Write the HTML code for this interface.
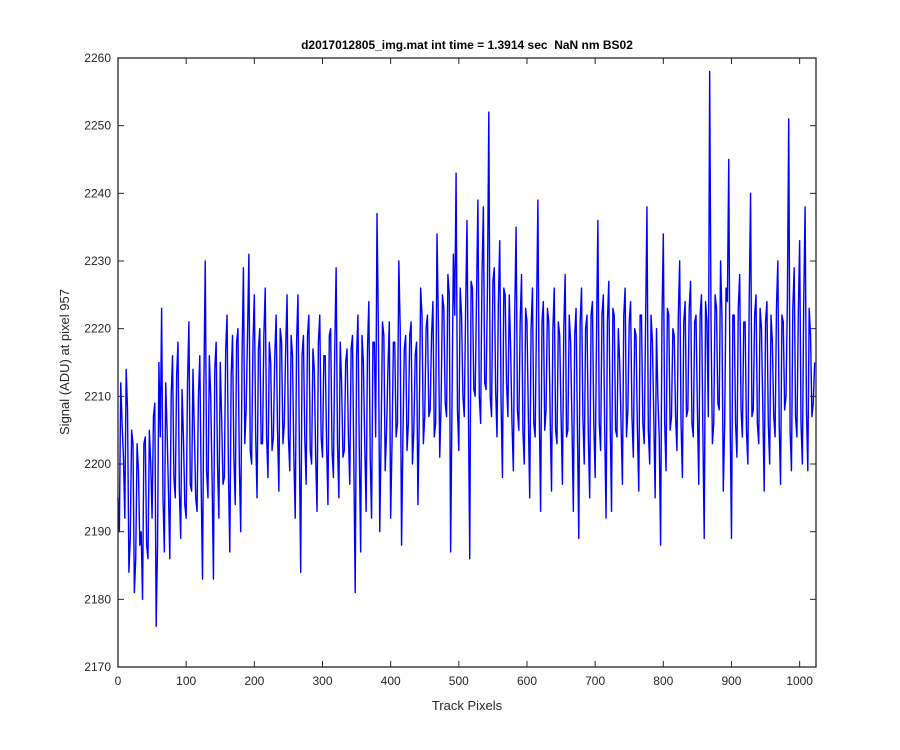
<!DOCTYPE html>
<html><head><meta charset="utf-8"><style>
html,body{margin:0;padding:0;background:#fff;}
svg{display:block;font-family:"Liberation Sans",Arial,sans-serif;}
</style></head><body>
<svg id="chart" width="900" height="750" viewBox="0 0 900 750" xmlns="http://www.w3.org/2000/svg">
<rect x="0" y="0" width="900" height="750" fill="#fff"/>
<text x="467" y="49" text-anchor="middle" font-size="12" font-weight="bold" fill="#000">d2017012805_img.mat int time = 1.3914 sec &#160;NaN nm BS02</text>
<text x="467" y="710" text-anchor="middle" font-size="13" fill="#262626">Track Pixels</text>
<text transform="translate(69,362) rotate(-90)" text-anchor="middle" font-size="13" fill="#262626">Signal (ADU) at pixel 957</text>
<g id="ticks"></g>
<polyline id="series" fill="none" stroke="#0000ff" stroke-width="1.4" stroke-linejoin="round"/>
<rect x="118" y="58" width="698" height="609" fill="none" stroke="#262626" stroke-width="1.3"/>
</svg>
<script>
const xTicks = [0,100,200,300,400,500,600,700,800,900,1000];
const yTicks = [2170,2180,2190,2200,2210,2220,2230,2240,2250,2260];
const sampleStep = 4;
// samples at pixel 4k
const signal = [2195,2212,2201,2214,2184,2205,2181,2203,2188,2180,2204,2186,2200,2207,2176,2215,
2223,2187,2205,2186,2216,2195,2218,2189,2204,2192,2221,2196,2205,2193,2216,2183,
2230,2195,2210,2183,2218,2192,2207,2198,2222,2187,2219,2194,2220,2190,2229,2208,
2231,2200,2225,2195,2220,2203,2226,2198,2215,2204,2222,2196,2218,2206,2225,2199,
2216,2192,2225,2184,2219,2197,2222,2200,2214,2193,2222,2201,2216,2194,2220,2198,
2229,2195,2212,2202,2217,2197,2219,2181,2222,2187,2215,2193,2224,2192,2218,2237,
2190,2221,2199,2214,2192,2218,2204,2230,2188,2217,2202,2219,2200,2216,2194,2226,
2203,2220,2207,2219,2204,2234,2201,2225,2209,2228,2187,2231,2243,2202,2222,2207,
2236,2186,2226,2210,2239,2206,2238,2211,2252,2207,2229,2204,2233,2198,2225,2207,
2217,2199,2235,2205,2228,2200,2221,2195,2226,2204,2239,2193,2224,2208,2221,2196,
2226,2203,2219,2197,2228,2205,2218,2193,2223,2189,2226,2200,2222,2195,2224,2198,
2236,2202,2225,2192,2227,2193,2222,2204,2215,2197,2226,2208,2224,2201,2219,2196,
2222,2203,2238,2200,2218,2195,2210,2188,2234,2199,2222,2207,2219,2202,2230,2198,
2224,2208,2227,2204,2222,2197,2225,2189,2221,2258,2203,2225,2209,2230,2196,2226,
2245,2189,2222,2201,2228,2204,2221,2200,2240,2208,2225,2203,2220,2196,2224,2200,
2218,2204,2230,2197,2221,2210,2251,2199,2229,2204,2233,2200,2238,2199,2219,2209];
// samples at pixel 4k+2
const signalMid = [2190,2206,2192,2208,2189,2203,2186,2199,2190,2203,2188,2205,2192,2209,2188,2204,
2195,2212,2196,2210,2198,2213,2196,2211,2194,2212,2197,2214,2195,2210,2197,2212,
2199,2216,2198,2214,2200,2215,2197,2217,2199,2213,2201,2218,2200,2216,2203,2219,
2202,2218,2204,2217,2203,2219,2204,2218,2202,2216,2205,2220,2203,2217,2204,2219,
2201,2218,2203,2216,2204,2219,2202,2217,2201,2218,2204,2216,2203,2219,2202,2217,
2203,2218,2201,2215,2204,2217,2200,2216,2202,2219,2203,2217,2201,2218,2204,2220,
2204,2219,2205,2221,2203,2218,2206,2220,2204,2219,2206,2221,2205,2218,2207,2222,
2207,2222,2208,2224,2206,2221,2209,2223,2207,2225,2209,2222,2208,2226,2210,2223,
2209,2227,2211,2225,2210,2228,2212,2226,2210,2227,2211,2224,2209,2226,2212,2225,
2206,2222,2208,2221,2205,2223,2207,2220,2206,2222,2208,2221,2205,2223,2207,2220,
2205,2221,2207,2220,2204,2222,2206,2219,2205,2221,2207,2220,2204,2222,2206,2219,
2206,2222,2205,2221,2207,2223,2205,2220,2206,2222,2204,2221,2207,2220,2205,2222,
2206,2221,2205,2222,2207,2220,2204,2221,2206,2223,2205,2220,2207,2222,2206,2221,
2207,2223,2206,2221,2208,2222,2205,2224,2207,2221,2206,2223,2208,2222,2206,2224,
2207,2222,2206,2223,2208,2221,2205,2224,2207,2222,2206,2223,2208,2221,2206,2222,
2207,2223,2206,2222,2208,2224,2205,2223,2207,2222,2206,2224,2208,2223,2207,2215];

const X0=118,X1=816,Y0=667,Y1=58,xMin=0,xMax=1024,yMin=2170,yMax=2260;
const xs = v => X0 + (v - xMin) / (xMax - xMin) * (X1 - X0);
const ys = v => Y0 - (v - yMin) / (yMax - yMin) * (Y0 - Y1);
const NS = 'http://www.w3.org/2000/svg';
const g = document.getElementById('ticks');
function mk(tag, attrs){const e=document.createElementNS(NS,tag);for(const k in attrs)e.setAttribute(k,attrs[k]);g.appendChild(e);return e;}
xTicks.forEach(t=>{
  const x=xs(t);
  const a=mk('line',{x1:x,y1:Y0,x2:x,y2:Y0-6,stroke:'#262626','stroke-width':1});
  
  
  const b=mk('line',{x1:x,y1:Y1,x2:x,y2:Y1+6,stroke:'#262626','stroke-width':1});
  
  
  const l=mk('text',{x:x,y:Y0+18,'text-anchor':'middle','font-size':12,fill:'#262626'});
  l.textContent=t;
  
  
});
yTicks.forEach(t=>{
  const y=ys(t);
  const a=mk('line',{x1:X0,y1:y,x2:X0+6,y2:y,stroke:'#262626','stroke-width':1});
  
  
  const b=mk('line',{x1:X1,y1:y,x2:X1-6,y2:y,stroke:'#262626','stroke-width':1});
  
  
  const l=mk('text',{x:X0-7,y:y+4,'text-anchor':'end','font-size':12,fill:'#262626'});
  l.textContent=t;
  
  
});
const pts=[];
signal.forEach((v,i)=>{
  pts.push(xs(i*sampleStep).toFixed(2)+','+ys(v).toFixed(2));
  if(i<signalMid.length) pts.push(xs(i*sampleStep+sampleStep/2).toFixed(2)+','+ys(signalMid[i]).toFixed(2));
});
document.getElementById('series').setAttribute('points', pts.join(' '));
</script>
</body></html>
